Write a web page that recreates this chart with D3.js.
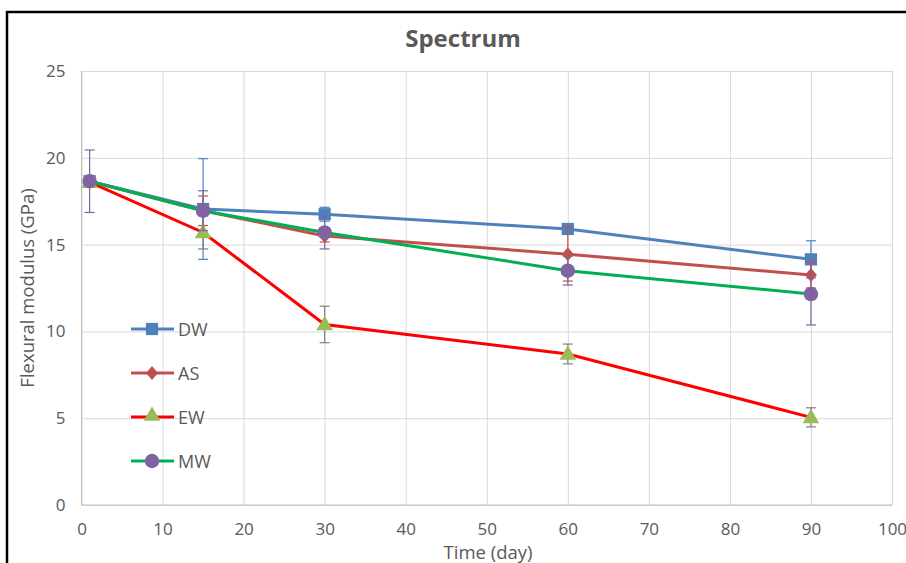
<!DOCTYPE html>
<html><head><meta charset="utf-8">
<script src="https://cdn.jsdelivr.net/npm/d3@7"></script>
<style>html,body{margin:0;padding:0;background:#fff;} svg{display:block;}</style>
</head><body>
<svg id="c" width="906" height="563"></svg>
<script>
const days = [1, 15, 30, 60, 90];
const seriesNames = ["DW", "AS", "EW", "MW"];
const dwValues = [18.65, 17.05, 16.75, 15.9, 14.15];
const asValues = [18.65, 16.95, 15.5, 14.45, 13.25];
const ewValues = [18.6, 15.7, 10.4, 8.7, 5.05];
const mwValues = [18.65, 16.95, 15.7, 13.5, 12.15];
const dwErrors = [0.3, 2.9, 0.4, 0.3, 1.07];
const asErrors = [0.3, 0.85, 0.35, 1.55, 0.75];
const ewErrors = [0.3, 0.95, 1.05, 0.57, 0.55];
const mwErrors = [1.8, 1.15, 0.95, 0.83, 1.78];
const xTicks = [0, 10, 20, 30, 40, 50, 60, 70, 80, 90, 100];
const yTicks = [0, 5, 10, 15, 20, 25];

const styles = {
  DW: {line: "#4f81bd", marker: "#4f81bd", err: "#4f81bd", shape: "square"},
  AS: {line: "#c0504d", marker: "#c0504d", err: "#c0504d", shape: "diamond"},
  EW: {line: "#ff0000", marker: "#9bbb59", err: "#7f7f7f", shape: "triangle"},
  MW: {line: "#00b050", marker: "#8064a2", err: "#8064a2", shape: "circle"}
};
const seriesData = {DW: [dwValues, dwErrors], AS: [asValues, asErrors], EW: [ewValues, ewErrors], MW: [mwValues, mwErrors]};

const svg = d3.select("#c");
const font = "'Open Sans', sans-serif";
const L = 81.5, R = 892, T = 71, B = 505;
const x = d3.scaleLinear().domain([0, 100]).range([L, R]);
const y = d3.scaleLinear().domain([0, 25]).range([B, T]);

// outer frame
svg.append("path").attr("d", `M7,563 L7,12 L906,12`).attr("fill", "none").attr("stroke", "#000").attr("stroke-width", 2.5);

// title
svg.append("text").attr("x", 463).attr("y", 47).attr("text-anchor", "middle")
  .attr("font-family", font).attr("font-weight", "bold").attr("font-size", 24)
  .attr("fill", "#595959").text("Spectrum");

// grid
const g = svg.append("g");
g.append("g").attr("transform", `translate(0,${B})`)
  .call(d3.axisBottom(x).tickValues(xTicks).tickSize(-(B - T)).tickFormat(""))
  .call(s => s.select(".domain").remove())
  .call(s => s.selectAll("line").attr("stroke", "#d9d9d9"));
g.append("g").attr("transform", `translate(${L},0)`)
  .call(d3.axisLeft(y).tickValues(yTicks).tickSize(-(R - L)).tickFormat(""))
  .call(s => s.select(".domain").remove())
  .call(s => s.selectAll("line").attr("stroke", "#d9d9d9"));
g.append("line").attr("x1", L).attr("x2", R).attr("y1", B).attr("y2", B).attr("stroke", "#bfbfbf");
g.append("line").attr("x1", L).attr("x2", L).attr("y1", T).attr("y2", B).attr("stroke", "#bfbfbf");

// tick labels
const xa = svg.append("g").attr("transform", `translate(0,${B})`)
  .call(d3.axisBottom(x).tickValues(xTicks).tickSize(0).tickPadding(18));
xa.select(".domain").remove();
xa.selectAll("text").attr("font-family", font).attr("font-size", 17).attr("fill", "#595959");
const ya = svg.append("g").attr("transform", `translate(${L},0)`)
  .call(d3.axisLeft(y).tickValues(yTicks).tickSize(0).tickPadding(16));
ya.select(".domain").remove();
ya.selectAll("text").attr("font-family", font).attr("font-size", 17).attr("fill", "#595959");

// axis titles
svg.append("text").attr("x", 488).attr("y", 559).attr("text-anchor", "middle")
  .attr("font-family", font).attr("font-size", 18.5).attr("fill", "#595959").text("Time (day)");
svg.append("text").attr("transform", `translate(34,288) rotate(-90)`).attr("text-anchor", "middle")
  .attr("font-family", font).attr("font-size", 18.5).attr("fill", "#595959").text("Flexural modulus  (GPa)");

function markerPath(shape) {
  if (shape === "square") return d3.symbol(d3.symbolSquare, 150)();
  if (shape === "diamond") return "M0,-7 L6,0 L0,7 L-6,0 Z";
  if (shape === "triangle") return d3.symbol(d3.symbolTriangle, 120)();
  return d3.symbol(d3.symbolCircle, 165)();
}

const line = d3.line().x(d => x(d[0])).y(d => y(d[1]));
seriesNames.forEach(name => {
  const st = styles[name];
  const [vals, errs] = seriesData[name];
  const pts = days.map((d, i) => [d, vals[i], errs[i]]);
  const sg = svg.append("g");
  pts.forEach(p => {
    const eg = sg.append("g").attr("stroke", st.err).attr("stroke-width", 1.2);
    eg.append("line").attr("x1", x(p[0])).attr("x2", x(p[0])).attr("y1", y(p[1] - p[2])).attr("y2", y(p[1] + p[2]));
    [p[1] - p[2], p[1] + p[2]].forEach(v => eg.append("line").attr("x1", x(p[0]) - 5).attr("x2", x(p[0]) + 5).attr("y1", y(v)).attr("y2", y(v)));
  });
  sg.append("path").datum(pts).attr("d", line).attr("fill", "none").attr("stroke", st.line).attr("stroke-width", 3);
  sg.selectAll(".m").data(pts).join("path").attr("d", markerPath(st.shape))
    .attr("transform", d => `translate(${x(d[0])},${y(d[1]) + (st.shape === "triangle" ? 1 : 0)})`).attr("fill", st.marker);
});

// legend
const legY = [329, 373, 417, 461];
seriesNames.forEach((name, i) => {
  const st = styles[name];
  const lg = svg.append("g").attr("transform", `translate(0,${legY[i]})`);
  lg.append("line").attr("x1", 131).attr("x2", 174).attr("y1", 0).attr("y2", 0).attr("stroke", st.line).attr("stroke-width", 3);
  lg.append("path").attr("d", markerPath(st.shape)).attr("transform", `translate(152,${st.shape === "triangle" ? -1 : 0})`).attr("fill", st.marker);
  lg.append("text").attr("x", 178).attr("y", 6.5).attr("font-family", font).attr("font-size", 18).attr("fill", "#595959").text(name);
});
</script>
</body></html>
